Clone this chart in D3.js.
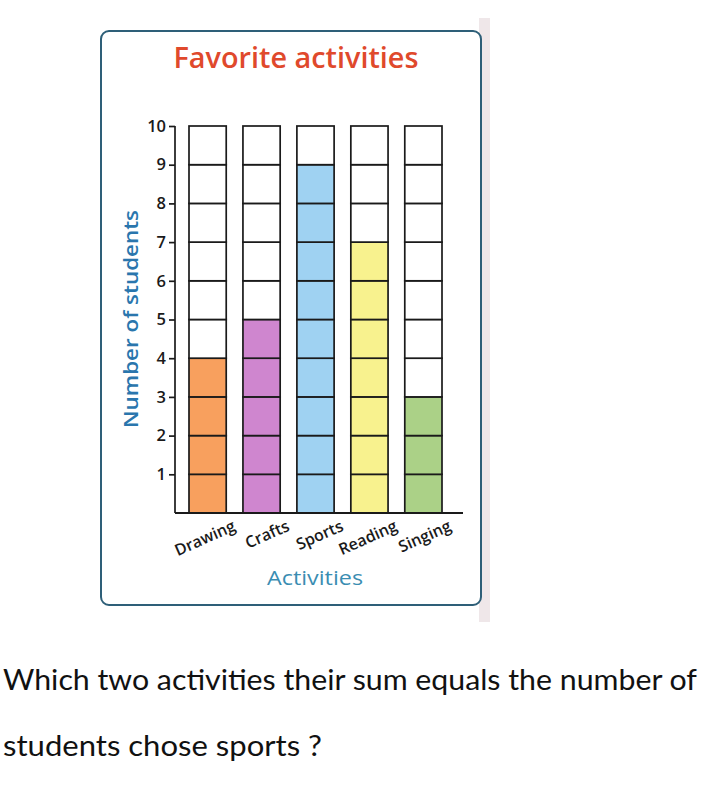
<!DOCTYPE html>
<html><head><meta charset="utf-8">
<script src="https://cdn.jsdelivr.net/npm/d3@7"></script>
<style>html,body{margin:0;padding:0;background:#fff;}svg{display:block;}</style>
</head><body>
<script>
const categories = ["Drawing", "Crafts", "Sports", "Reading", "Singing"];
const values = [4, 5, 9, 7, 3];
const barColors = ["#f8a05e", "#cf86cf", "#9fd2f2", "#f8f28e", "#abd187"];
const yTicks = [1, 2, 3, 4, 5, 6, 7, 8, 9, 10];
const yMax = 10;
const title = "Favorite activities";
const yLabel = "Number of students";
const xLabel = "Activities";
const questionLines = ["Which two activities their sum equals the number of", "students chose sports ?"];

const W = 717, H = 790;
const svg = d3.select("body").append("svg").attr("width", W).attr("height", H);

// page edge shading (photographed book page)
svg.append("rect").attr("x", 479).attr("y", 18).attr("width", 11).attr("height", 604).attr("fill", "#efe7e9");

// frame
svg.append("rect").attr("x", 101).attr("y", 31).attr("width", 380).attr("height", 574)
  .attr("rx", 8).attr("fill", "#fff").attr("stroke", "#2e5f78").attr("stroke-width", 2);

svg.append("text").attr("x", 296).attr("y", 68).attr("text-anchor", "middle")
  .attr("font-family", "Open Sans").attr("font-weight", 600).attr("font-size", 29).attr("fill", "#e0492c")
  .attr("textLength", 245).attr("lengthAdjust", "spacingAndGlyphs").text(title);

const y = d3.scaleLinear().domain([0, yMax]).range([513, 126]);
const x = d3.scaleBand().domain(categories).range([189, 442]).paddingInner(0.31).paddingOuter(0);

// cells
const cells = [];
categories.forEach((c, i) => {
  for (let k = 0; k < yMax; k++) cells.push({c, k, filled: k < values[i], color: barColors[i]});
});
svg.append("g").selectAll("rect").data(cells).join("rect")
  .attr("x", d => x(d.c)).attr("width", x.bandwidth())
  .attr("y", d => y(d.k + 1)).attr("height", d => y(d.k) - y(d.k + 1))
  .attr("fill", d => d.filled ? d.color : "#fff")
  .attr("stroke", "#1a1a1a").attr("stroke-width", 1.7);

// y axis
const yAxis = svg.append("g").attr("transform", "translate(175,0)")
  .call(d3.axisLeft(y).tickValues(yTicks).tickSize(6).tickPadding(3).tickSizeOuter(0));
yAxis.select(".domain").attr("stroke", "#1a1a1a").attr("stroke-width", 1.7)
  .attr("d", `M0,${y(yMax)}V${y(0)}`);
yAxis.selectAll(".tick line").attr("stroke", "#1a1a1a").attr("stroke-width", 1.7);
yAxis.selectAll(".tick text").attr("font-family", "Open Sans").attr("font-size", 16.5)
  .attr("fill", "#1a1a1a").attr("font-weight", 600);

// x axis
const xAxis = svg.append("g").attr("transform", "translate(0,513)")
  .call(d3.axisBottom(x).tickSize(0).tickFormat(""));
xAxis.select(".domain").attr("stroke", "#1a1a1a").attr("stroke-width", 2)
  .attr("d", "M175,0H463");

svg.append("g").selectAll("text").data(categories).join("text")
  .attr("transform", d => `translate(${x(d) + x.bandwidth() / 2 + 29},530) rotate(-24)`)
  .attr("text-anchor", "end")
  .attr("font-family", "Open Sans").attr("font-size", 16).attr("font-weight", 600).attr("fill", "#1a1a1a")
  .text(d => d);

svg.append("text").attr("transform", "translate(138,319) rotate(-90)")
  .attr("text-anchor", "middle").attr("font-family", "Open Sans").attr("font-weight", 600).attr("font-size", 19)
  .attr("fill", "#2a76ad").attr("textLength", 218).attr("lengthAdjust", "spacingAndGlyphs").text(yLabel);

svg.append("text").attr("x", 315).attr("y", 585).attr("text-anchor", "middle")
  .attr("font-family", "Open Sans").attr("font-weight", 500).attr("font-size", 20).attr("fill", "#3a8db2")
  .attr("textLength", 96).attr("lengthAdjust", "spacingAndGlyphs").text(xLabel);

// question text
svg.append("text").attr("x", 3).attr("y", 690).attr("font-family", "Lato").attr("font-size", 28)
  .attr("fill", "#111").attr("textLength", 694).attr("lengthAdjust", "spacingAndGlyphs").text(questionLines[0]);
svg.append("text").attr("x", 3).attr("y", 756).attr("font-family", "Lato").attr("font-size", 28)
  .attr("fill", "#111").attr("textLength", 319).attr("lengthAdjust", "spacingAndGlyphs").text(questionLines[1]);
</script>
</body></html>
